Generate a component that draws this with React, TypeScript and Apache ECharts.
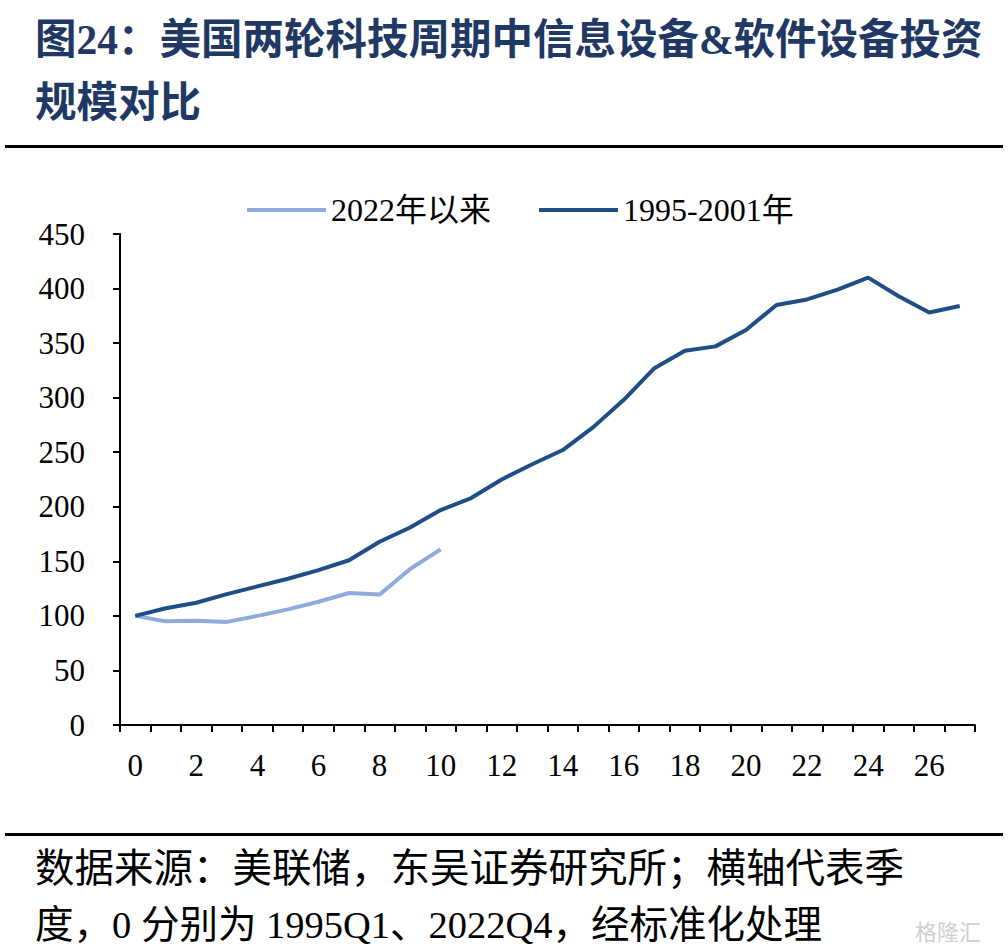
import React, { useEffect, useRef } from "react";
import * as echarts from "echarts";

const categories = Array.from({ length: 28 }, (_, i) => String(i));
const series2022 = [100, 95, 95.5, 94.5, 100, 106, 113, 121, 119.5, 143, 161];
const series1995 = [100, 107, 112, 120, 127, 134, 142, 151, 168, 181, 197, 208, 225, 239, 252, 273, 298, 327, 343, 347, 362, 385, 390, 399, 410, 393, 378, 384];
const seriesNames = ["2022年以来", "1995-2001年"];
const titleLines = ["图24：美国两轮科技周期中信息设备&软件设备投资", "规模对比"];
const footerLines = ["数据来源：美联储，东吴证券研究所；横轴代表季", "度，0 分别为 1995Q1、2022Q4，经标准化处理"];

const FONT = "'Liberation Serif', 'Times New Roman', 'Noto Sans CJK SC', serif";

export default function App() {
  const ref = useRef<HTMLDivElement>(null);
  useEffect(() => {
    if (!ref.current) return;
    const chart = echarts.init(ref.current, null, { renderer: "svg" });
    chart.setOption({
      animation: false,
      backgroundColor: "#ffffff",
      textStyle: { fontFamily: FONT },
      graphic: [
        { type: "text", left: 35, top: 19, style: { text: titleLines[0], fontSize: 41.5, fontWeight: "bold", fill: "#1F3864", fontFamily: FONT } },
        { type: "text", left: 35, top: 82, style: { text: titleLines[1], fontSize: 41.5, fontWeight: "bold", fill: "#1F3864", fontFamily: FONT } },
        { type: "rect", shape: { x: 5, y: 145, width: 998, height: 3 }, style: { fill: "#000" } },
        { type: "rect", shape: { x: 5, y: 833, width: 998, height: 3 }, style: { fill: "#000" } },
        { type: "text", x: 35, y: 869, style: { text: footerLines[0], fontSize: 39.5, lineHeight: 36, verticalAlign: "middle", fill: "#000", fontFamily: FONT } },
        { type: "text", x: 35, y: 925, style: { text: footerLines[1], fontSize: 38.5, lineHeight: 34, verticalAlign: "middle", fill: "#000", fontFamily: FONT } },
        { type: "text", x: 915, y: 930, style: { text: "格隆汇", fontSize: 22, lineHeight: 24, verticalAlign: "middle", fill: "#d0d0d0", fontFamily: "'Noto Sans CJK SC'" } },
      ],
      legend: {
        top: 194,
        left: 247,
        padding: 0,
        icon: "rect",
        itemWidth: 79,
        itemHeight: 4,
        itemGap: 48,
        textStyle: { fontSize: 32, color: "#000", fontFamily: FONT },
        data: seriesNames,
      },
      grid: { left: 120, right: 33, top: 234, bottom: 225, containLabel: false },
      xAxis: {
        type: "category",
        data: categories,
        boundaryGap: true,
        axisLine: { lineStyle: { color: "#000", width: 2 } },
        axisTick: { show: true, length: 7, interval: 0, lineStyle: { color: "#000", width: 2 } },
        axisLabel: { interval: 1, fontSize: 31, color: "#000", margin: 25, fontFamily: FONT },
      },
      yAxis: {
        type: "value",
        min: 0,
        max: 450,
        interval: 50,
        splitLine: { show: false },
        axisLine: { show: true, lineStyle: { color: "#000", width: 2 } },
        axisTick: { show: true, length: 7, lineStyle: { color: "#000", width: 2 } },
        axisLabel: { fontSize: 31, color: "#000", margin: 35, fontFamily: FONT },
      },
      series: [
        {
          name: seriesNames[0],
          type: "line",
          data: series2022,
          symbol: "none",
          lineStyle: { color: "#8FAADC", width: 4 },
          itemStyle: { color: "#8FAADC" },
        },
        {
          name: seriesNames[1],
          type: "line",
          data: series1995,
          symbol: "none",
          lineStyle: { color: "#1F4E86", width: 4 },
          itemStyle: { color: "#1F4E86" },
        },
      ],
    });
    return () => chart.dispose();
  }, []);
  return <div ref={ref} style={{ position: "absolute", left: 0, top: 0, width: 1008, height: 950 }} />;
}
